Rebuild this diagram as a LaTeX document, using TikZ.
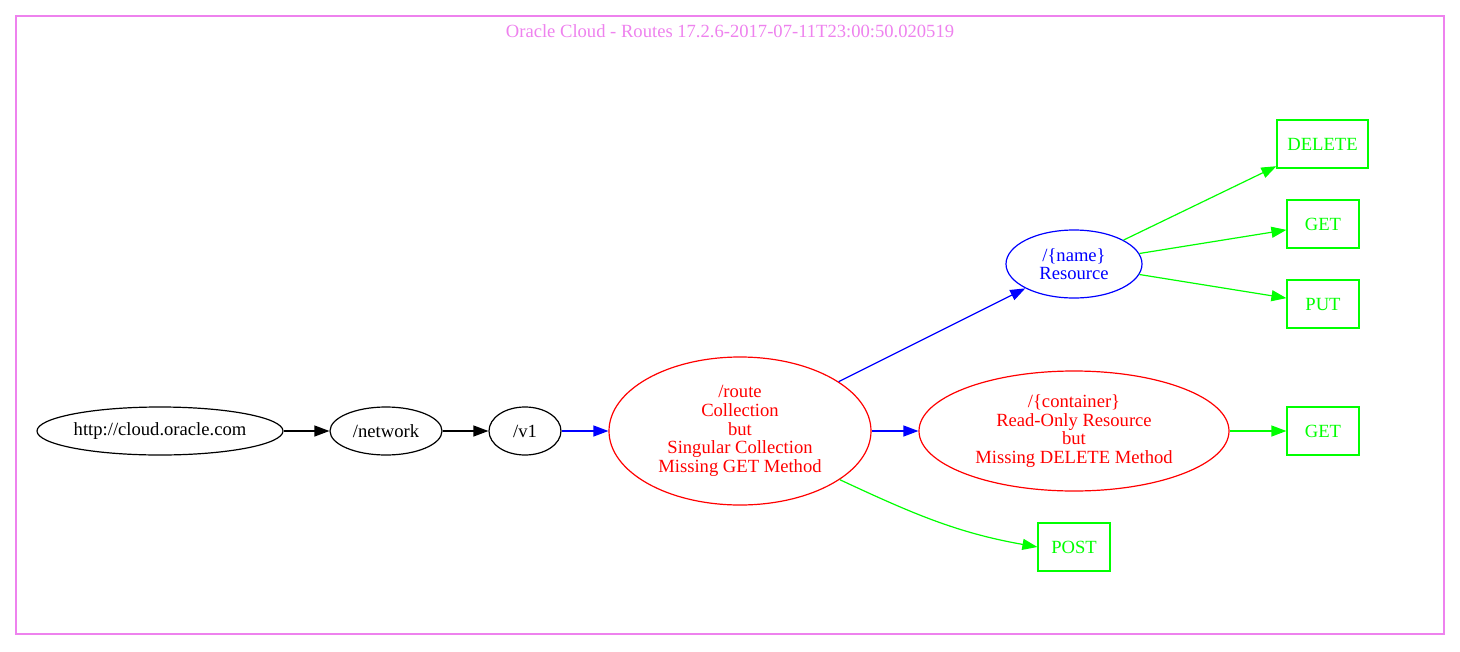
\documentclass[tikz,border=0pt]{standalone}
\usepackage{fontspec}
\setmainfont{Liberation Serif}
\usetikzlibrary{shapes.geometric,arrows.meta}
\definecolor{gvviolet}{HTML}{EE82EE}
\definecolor{gvgreen}{HTML}{00FF00}
\definecolor{gvblue}{HTML}{0000FF}
\definecolor{gvred}{HTML}{FF0000}
\tikzset{
	gvfont/.style={font=\fontsize{18.6}{18.7}\selectfont},
	ell/.style={ellipse, draw, line width=1.2pt, inner sep=0pt, align=center, gvfont},
	verb/.style={rectangle, draw=gvgreen, text=gvgreen, line width=1.2pt,
		minimum width=72pt, minimum height=48pt, inner sep=0pt, gvfont},
	link/.style={-{Triangle[length=15pt,width=11pt]}, line width=1.2pt}
}
\begin{document}
\begin{tikzpicture}[x=1pt,y=-1pt]
%\draw[help lines] (0,0) grid (1460,651);
\useasboundingbox (0,0) rectangle (1460,651);
%% Cluster
\draw[gvviolet, line width=1.2pt] (16,16) rectangle (1444,634);
\node[gvfont, text=gvviolet] (title) at (730,31) {Oracle Cloud - Routes 17.2.6-2017-07-11T23:00:50.020519};
%% Path nodes
\def\y{431}
\node[ell, minimum width=246pt, minimum height=48pt] (root) at (160,\y) {http://cloud.oracle.com};
\node[ell, minimum width=112pt, minimum height=48pt] (network) at (386,\y) {/network};
\node[ell, minimum width=72pt, minimum height=48pt] (v1) at (525,\y) {/v1};
\node[ell, draw=gvred, text=gvred, minimum width=262pt, minimum height=148pt] (route) at (740,\y)
	{/route\\Collection\\but\\Singular Collection\\Missing GET Method};
\node[ell, draw=gvred, text=gvred, minimum width=310pt, minimum height=120pt] (container) at (1074,\y)
	{/\{container\}\\Read-Only Resource\\but\\Missing DELETE Method};
\node[ell, draw=gvblue, text=gvblue, minimum width=136pt, minimum height=68pt] (name) at (1074,264)
	{/\{name\}\\Resource};
%% Methods
\node[verb, minimum width=91pt] (namedelete) at (1322.5,144) {DELETE};
\node[verb] (nameget) at (1323,224) {GET};
\node[verb] (nameput) at (1323,304) {PUT};
\node[verb] (containerget) at (1323,\y) {GET};
\node[verb] (routepost) at (1074,547) {POST};
%% Edges
\draw[link] (root) -- (network);
\draw[link] (network) -- (v1);
\draw[link, gvblue] (v1) -- (route);
\draw[link, gvblue] (route) -- (name);
\draw[link, gvblue] (route) -- (container);
\draw[link, gvgreen] (route.-26) to[out=-25, in=170] (routepost.west);
\draw[link, gvgreen] (name) -- (namedelete);
\draw[link, gvgreen] (name) -- (nameget);
\draw[link, gvgreen] (name) -- (nameput);
\draw[link, gvgreen] (container) -- (containerget);
\end{tikzpicture}
\end{document}
